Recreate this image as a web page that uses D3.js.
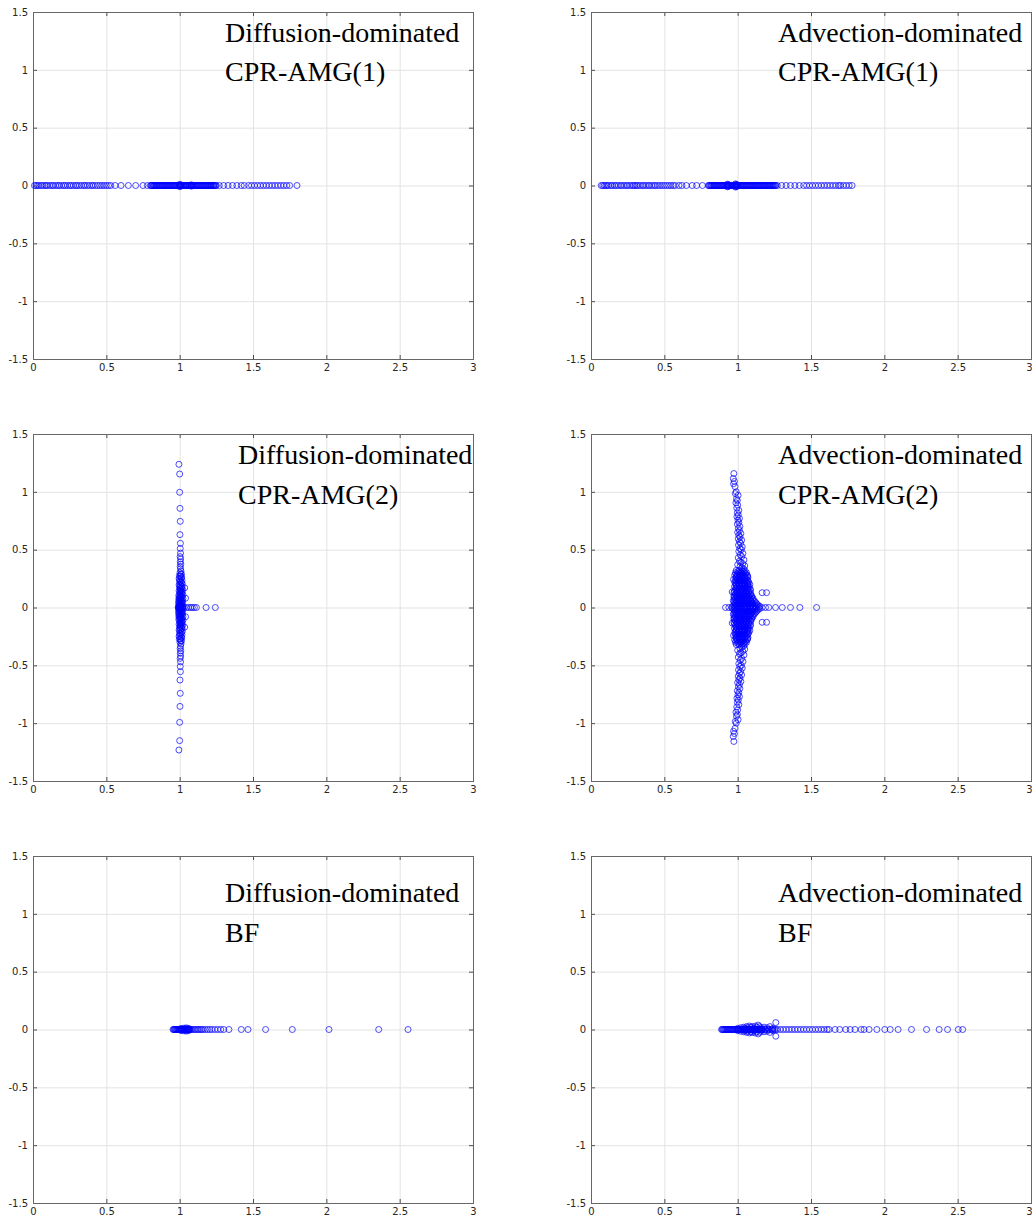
<!DOCTYPE html>
<html><head><meta charset="utf-8">
<script src="https://cdn.jsdelivr.net/npm/d3@7"></script>
<style>body{margin:0;background:#fff}</style>
</head><body>
<svg id="c" width="1032" height="1222"></svg>
<script>
// ---------- tick labels ----------
const xTicks = [0, 0.5, 1, 1.5, 2, 2.5, 3];
const yTicks = [-1.5, -1, -0.5, 0, 0.5, 1, 1.5];
const regimes = ["Diffusion-dominated", "Advection-dominated"];
const methods = ["CPR-AMG(1)", "CPR-AMG(2)", "BF"];

// ---------- eigenvalues (real ones, and complex [re, im]) ----------
const diffAmg1Real = [0.01,0.02,0.03,0.04,0.055,0.065,0.08,0.09,0.1,0.115,0.13,0.14,0.155,0.17,0.18,0.195,0.21,0.22,0.235,0.25,0.26,0.275,0.29,0.3,0.315,0.33,0.345,0.355,0.37,0.385,0.4,0.41,0.425,0.44,0.455,0.47,0.485,0.5,0.515,0.53,0.56,0.6,0.65,0.7,0.75,0.78,
 0.80,0.806,0.81,0.815,0.821,0.826,0.83,0.835,0.841,0.845,0.85,0.856,0.861,0.865,0.87,0.876,0.88,0.885,0.891,0.895,0.9,0.906,0.911,0.915,0.92,0.926,0.93,0.935,0.941,0.945,0.95,0.956,0.961,0.965,0.97,0.976,0.98,0.985,0.991,0.995,1.0,1.006,1.011,1.015,1.02,1.026,1.03,1.035,1.041,1.045,1.05,1.056,1.061,1.065,1.07,1.076,1.08,1.085,1.091,1.095,1.1,1.106,1.111,1.115,1.12,1.126,1.13,1.135,1.141,1.145,1.15,1.156,1.161,1.165,1.17,1.176,1.18,1.185,1.191,1.195,1.2,1.206,1.211,1.215,1.22,1.226,1.23,1.235,1.241,1.245,1.25,
 1.27,1.3,1.33,1.36,1.39,1.42,1.44,1.47,1.49,1.51,1.53,1.55,1.57,1.59,1.61,1.63,1.65,1.67,1.69,1.71,1.73,1.75,1.8];
const diffAmg1Cplx = [[1.0,0.01],[1.0,-0.01],[1.005,0.006],[1.005,-0.006],[1.08,0.006],[1.08,-0.006]];

const advAmg1Real = [0.07,0.08,0.09,0.1,0.11,0.12,0.135,0.145,0.16,0.17,0.185,0.2,0.21,0.225,0.24,0.25,0.265,0.28,0.29,0.3,0.31,0.32,0.335,0.35,0.36,0.375,0.39,0.4,0.415,0.43,0.44,0.455,0.47,0.485,0.5,0.515,0.53,0.545,0.56,0.575,0.6,0.62,0.65,0.69,0.72,0.76,
 0.80,0.805,0.81,0.816,0.82,0.825,0.83,0.836,0.84,0.845,0.85,0.856,0.86,0.865,0.87,0.876,0.88,0.885,0.89,0.896,0.9,0.905,0.91,0.916,0.92,0.925,0.93,0.936,0.94,0.945,0.95,0.956,0.96,0.965,0.97,0.976,0.98,0.985,0.99,0.996,1.0,1.005,1.01,1.016,1.02,1.025,1.03,1.036,1.04,1.045,1.05,1.056,1.06,1.065,1.07,1.076,1.08,1.085,1.09,1.096,1.1,1.105,1.11,1.116,1.12,1.125,1.13,1.136,1.14,1.145,1.15,1.156,1.16,1.165,1.17,1.176,1.18,1.185,1.19,1.196,1.2,1.205,1.21,1.216,1.22,1.225,1.23,1.236,1.24,1.245,1.25,1.256,1.26,1.27,
 1.3,1.33,1.36,1.39,1.42,1.45,1.47,1.49,1.51,1.53,1.55,1.57,1.59,1.61,1.63,1.65,1.67,1.69,1.7,1.72,1.74,1.76,1.78];
const advAmg1Cplx = [[0.93,0.012],[0.93,-0.012],[0.935,0.008],[0.935,-0.008],[0.985,0.014],[0.985,-0.014],[0.99,0.01],[0.99,-0.01],[0.995,0.006],[0.995,-0.006]];

const diffAmg2Real = [0.99,0.995,1.0,1.0,1.005,1.01,1.015,1.02,1.03,1.045,1.06,1.075,1.086,1.1,1.114,1.18,1.243];
const diffAmg2Cplx = [
 [0.995,1.238],[1.0,1.154],[1.0,0.996],[1.002,0.857],[1.004,0.745],[1.002,0.63],[1.005,0.555],[1.004,0.51],[1.006,0.47],[1.003,0.44],[1.007,0.42],[1.004,0.395],[1.008,0.375],[1.003,0.355],[1.006,0.335],[1.009,0.315],[1.002,0.3],[1.007,0.285],[1.004,0.27],[1.01,0.255],[1.0,0.24],[1.006,0.228],[1.012,0.215],[1.003,0.2],[1.008,0.19],[1.0,0.178],[1.014,0.17],[1.005,0.16],[1.01,0.15],[1.034,0.17],[1.002,0.14],[1.008,0.13],[1.015,0.12],[1.0,0.11],[1.006,0.1],[1.012,0.092],[0.996,0.085],[1.04,0.08],[1.004,0.075],[1.01,0.066],[1.018,0.06],[0.995,0.055],[1.003,0.048],[1.008,0.04],[1.014,0.034],[0.998,0.03],[1.005,0.022],[1.012,0.016],[1.0,0.01],[1.007,0.005],
 [1.012,0.29],[0.998,0.275],[1.014,0.262],[0.996,0.25],[1.016,0.235],[1.0,0.222],[1.018,0.205],[0.996,0.195],[1.016,0.182],[1.002,0.165],[1.02,0.155],[0.996,0.145],[1.016,0.135],[1.002,0.125],[1.022,0.112],[0.994,0.104],[1.016,0.096],[1.002,0.088],[1.022,0.078],[0.994,0.07],[1.0,0.062],[1.014,0.052],[1.02,0.044],[0.992,0.038],[1.016,0.026],[0.994,0.018],[1.02,0.01],[0.993,0.004],
 [0.995,-1.232],[1.0,-1.151],[1.0,-0.993],[1.002,-0.855],[1.004,-0.742],[1.002,-0.627],[1.005,-0.555],[1.004,-0.51],[1.006,-0.47],[1.003,-0.44],[1.007,-0.42],[1.004,-0.395],[1.008,-0.375],[1.003,-0.355],[1.006,-0.335],[1.009,-0.315],[1.002,-0.3],[1.007,-0.285],[1.004,-0.27],[1.01,-0.255],[1.0,-0.24],[1.006,-0.228],[1.012,-0.215],[1.003,-0.2],[1.008,-0.19],[1.0,-0.178],[1.014,-0.17],[1.005,-0.16],[1.01,-0.15],[1.034,-0.17],[1.002,-0.14],[1.008,-0.13],[1.015,-0.12],[1.0,-0.11],[1.006,-0.1],[1.012,-0.092],[0.996,-0.085],[1.04,-0.08],[1.004,-0.075],[1.01,-0.066],[1.018,-0.06],[0.995,-0.055],[1.003,-0.048],[1.008,-0.04],[1.014,-0.034],[0.998,-0.03],[1.005,-0.022],[1.012,-0.016],[1.0,-0.01],[1.007,-0.005],
 [1.012,-0.29],[0.998,-0.275],[1.014,-0.262],[0.996,-0.25],[1.016,-0.235],[1.0,-0.222],[1.018,-0.205],[0.996,-0.195],[1.016,-0.182],[1.002,-0.165],[1.02,-0.155],[0.996,-0.145],[1.016,-0.135],[1.002,-0.125],[1.022,-0.112],[0.994,-0.104],[1.016,-0.096],[1.002,-0.088],[1.022,-0.078],[0.994,-0.07],[1.0,-0.062],[1.014,-0.052],[1.02,-0.044],[0.992,-0.038],[1.016,-0.026],[0.994,-0.018],[1.02,-0.01],[0.993,-0.004]];

const advAmg2Real = [0.917,0.94,0.96,0.98,0.995,1.01,1.025,1.04,1.055,1.07,1.085,1.1,1.122,1.144,1.167,1.19,1.212,1.258,1.304,1.36,1.424,1.538];
const advAmg2Cplx = [
 // upper arm
 [0.974,1.158],[0.97,1.115],[0.978,1.09],[0.972,1.07],[0.982,1.045],[0.99,1.0],[0.984,0.985],[1.003,0.97],[0.992,0.94],[0.998,0.925],[0.988,0.905],[1.0,0.885],[0.994,0.86],[1.008,0.84],[0.998,0.82],[1.004,0.8],[0.995,0.785],[1.012,0.77],[1.002,0.755],[1.008,0.735],[0.998,0.72],[1.015,0.7],[1.005,0.685],[1.012,0.665],[1.0,0.65],[1.022,0.64],[1.008,0.625],[1.016,0.61],[1.004,0.595],[1.027,0.582],[1.012,0.57],[1.02,0.555],[1.006,0.54],[1.031,0.524],[1.015,0.51],[1.025,0.5],[1.008,0.485],[1.036,0.467],[1.018,0.455],[1.028,0.44],[1.004,0.43],[1.043,0.41],[1.012,0.4],[1.022,0.39],[1.035,0.38],[1.0,0.37],[1.048,0.36],[1.016,0.355],[1.028,0.345],[1.04,0.335],
 // lower arm
 [0.974,-1.158],[0.97,-1.115],[0.978,-1.09],[0.972,-1.07],[0.982,-1.045],[0.99,-1.0],[0.984,-0.985],[1.003,-0.97],[0.992,-0.94],[0.998,-0.925],[0.988,-0.905],[1.0,-0.885],[0.994,-0.86],[1.008,-0.84],[0.998,-0.82],[1.004,-0.8],[0.995,-0.785],[1.012,-0.77],[1.002,-0.755],[1.008,-0.735],[0.998,-0.72],[1.015,-0.7],[1.005,-0.685],[1.012,-0.665],[1.0,-0.65],[1.022,-0.64],[1.008,-0.625],[1.016,-0.61],[1.004,-0.595],[1.027,-0.582],[1.012,-0.57],[1.02,-0.555],[1.006,-0.54],[1.031,-0.524],[1.015,-0.51],[1.025,-0.5],[1.008,-0.485],[1.036,-0.467],[1.018,-0.455],[1.028,-0.44],[1.004,-0.43],[1.043,-0.41],[1.012,-0.4],[1.022,-0.39],[1.035,-0.38],[1.0,-0.37],[1.048,-0.36],[1.016,-0.355],[1.028,-0.345],[1.04,-0.335],
 // core, upper half
 [0.99,0.32],[1.01,0.32],[1.03,0.32],[1.05,0.32],
 [1.0,0.31],[1.02,0.31],[1.04,0.31],
 [0.985,0.3],[1.005,0.3],[1.025,0.3],[1.045,0.3],[1.06,0.3],
 [0.995,0.29],[1.015,0.29],[1.035,0.29],[1.055,0.29],
 [0.98,0.28],[1.0,0.28],[1.02,0.28],[1.04,0.28],[1.065,0.28],
 [0.99,0.27],[1.01,0.27],[1.03,0.27],[1.05,0.27],[1.068,0.27],
 [0.99,0.26],[1.01,0.26],[1.03,0.26],[1.05,0.26],[1.07,0.26],
 [0.995,0.25],[1.015,0.25],[1.035,0.25],[1.055,0.25],
 [0.972,0.242],[0.985,0.24],[1.005,0.24],[1.025,0.24],[1.045,0.24],[1.065,0.24],
 [0.99,0.23],[1.01,0.23],[1.03,0.23],[1.05,0.23],[1.07,0.23],
 [0.98,0.22],[1.0,0.22],[1.02,0.22],[1.04,0.22],[1.06,0.22],[1.075,0.22],
 [0.985,0.21],[1.005,0.21],[1.025,0.21],[1.045,0.21],[1.065,0.21],
 [0.99,0.2],[1.01,0.2],[1.03,0.2],[1.05,0.2],[1.07,0.2],[1.083,0.2],
 [0.988,0.19],[1.008,0.19],[1.028,0.19],[1.048,0.19],[1.068,0.19],
 [0.978,0.18],[0.998,0.18],[1.018,0.18],[1.038,0.18],[1.058,0.18],[1.078,0.18],
 [0.99,0.17],[1.01,0.17],[1.03,0.17],[1.05,0.17],[1.07,0.17],
 [0.985,0.16],[1.005,0.16],[1.025,0.16],[1.045,0.16],[1.065,0.16],[1.085,0.16],
 [0.988,0.15],[1.008,0.15],[1.028,0.15],[1.048,0.15],[1.068,0.15],[1.088,0.15],
 [0.963,0.135],[0.978,0.14],[0.998,0.14],[1.018,0.14],[1.038,0.14],[1.058,0.14],[1.078,0.14],
 [0.975,0.13],[0.995,0.13],[1.015,0.13],[1.035,0.13],[1.055,0.13],[1.075,0.13],
 [0.985,0.12],[1.005,0.12],[1.025,0.12],[1.045,0.12],[1.065,0.12],[1.09,0.12],[1.167,0.128],[1.197,0.128],
 [0.985,0.11],[1.005,0.11],[1.025,0.11],[1.045,0.11],[1.065,0.11],[1.085,0.11],
 [0.975,0.1],[0.995,0.1],[1.015,0.1],[1.035,0.1],[1.055,0.1],[1.075,0.1],[1.095,0.1],
 [0.975,0.09],[0.995,0.09],[1.015,0.09],[1.035,0.09],[1.055,0.09],[1.075,0.09],[1.095,0.09],
 [0.985,0.08],[1.005,0.08],[1.025,0.08],[1.045,0.08],[1.065,0.08],[1.085,0.08],[1.105,0.08],
 [0.98,0.07],[1.0,0.07],[1.02,0.07],[1.04,0.07],[1.06,0.07],[1.08,0.07],[1.1,0.07],
 [0.97,0.06],[0.99,0.06],[1.01,0.06],[1.03,0.06],[1.05,0.06],[1.07,0.06],[1.09,0.06],[1.11,0.06],
 [0.975,0.05],[0.995,0.05],[1.015,0.05],[1.035,0.05],[1.055,0.05],[1.075,0.05],[1.095,0.05],[1.118,0.05],
 [0.98,0.04],[1.0,0.04],[1.02,0.04],[1.04,0.04],[1.06,0.04],[1.08,0.04],[1.1,0.04],[1.125,0.04],
 [0.985,0.03],[1.005,0.03],[1.025,0.03],[1.045,0.03],[1.065,0.03],[1.085,0.03],[1.105,0.03],[1.13,0.03],
 [0.975,0.02],[0.995,0.02],[1.015,0.02],[1.035,0.02],[1.055,0.02],[1.075,0.02],[1.095,0.02],[1.115,0.02],[1.14,0.02],
 [0.965,0.01],[0.985,0.01],[1.005,0.01],[1.025,0.01],[1.045,0.01],[1.065,0.01],[1.085,0.01],[1.105,0.01],[1.125,0.01],[1.15,0.01],
 // core, lower half
 [0.99,-0.32],[1.01,-0.32],[1.03,-0.32],[1.05,-0.32],
 [1.0,-0.31],[1.02,-0.31],[1.04,-0.31],
 [0.985,-0.3],[1.005,-0.3],[1.025,-0.3],[1.045,-0.3],[1.06,-0.3],
 [0.995,-0.29],[1.015,-0.29],[1.035,-0.29],[1.055,-0.29],
 [0.98,-0.28],[1.0,-0.28],[1.02,-0.28],[1.04,-0.28],[1.065,-0.28],
 [0.99,-0.27],[1.01,-0.27],[1.03,-0.27],[1.05,-0.27],[1.068,-0.27],
 [0.99,-0.26],[1.01,-0.26],[1.03,-0.26],[1.05,-0.26],[1.07,-0.26],
 [0.995,-0.25],[1.015,-0.25],[1.035,-0.25],[1.055,-0.25],
 [0.972,-0.242],[0.985,-0.24],[1.005,-0.24],[1.025,-0.24],[1.045,-0.24],[1.065,-0.24],
 [0.99,-0.23],[1.01,-0.23],[1.03,-0.23],[1.05,-0.23],[1.07,-0.23],
 [0.98,-0.22],[1.0,-0.22],[1.02,-0.22],[1.04,-0.22],[1.06,-0.22],[1.075,-0.22],
 [0.985,-0.21],[1.005,-0.21],[1.025,-0.21],[1.045,-0.21],[1.065,-0.21],
 [0.99,-0.2],[1.01,-0.2],[1.03,-0.2],[1.05,-0.2],[1.07,-0.2],[1.083,-0.2],
 [0.988,-0.19],[1.008,-0.19],[1.028,-0.19],[1.048,-0.19],[1.068,-0.19],
 [0.978,-0.18],[0.998,-0.18],[1.018,-0.18],[1.038,-0.18],[1.058,-0.18],[1.078,-0.18],
 [0.99,-0.17],[1.01,-0.17],[1.03,-0.17],[1.05,-0.17],[1.07,-0.17],
 [0.985,-0.16],[1.005,-0.16],[1.025,-0.16],[1.045,-0.16],[1.065,-0.16],[1.085,-0.16],
 [0.988,-0.15],[1.008,-0.15],[1.028,-0.15],[1.048,-0.15],[1.068,-0.15],[1.088,-0.15],
 [0.963,-0.135],[0.978,-0.14],[0.998,-0.14],[1.018,-0.14],[1.038,-0.14],[1.058,-0.14],[1.078,-0.14],
 [0.975,-0.13],[0.995,-0.13],[1.015,-0.13],[1.035,-0.13],[1.055,-0.13],[1.075,-0.13],
 [0.985,-0.12],[1.005,-0.12],[1.025,-0.12],[1.045,-0.12],[1.065,-0.12],[1.09,-0.12],[1.167,-0.128],[1.197,-0.128],
 [0.985,-0.11],[1.005,-0.11],[1.025,-0.11],[1.045,-0.11],[1.065,-0.11],[1.085,-0.11],
 [0.975,-0.1],[0.995,-0.1],[1.015,-0.1],[1.035,-0.1],[1.055,-0.1],[1.075,-0.1],[1.095,-0.1],
 [0.975,-0.09],[0.995,-0.09],[1.015,-0.09],[1.035,-0.09],[1.055,-0.09],[1.075,-0.09],[1.095,-0.09],
 [0.985,-0.08],[1.005,-0.08],[1.025,-0.08],[1.045,-0.08],[1.065,-0.08],[1.085,-0.08],[1.105,-0.08],
 [0.98,-0.07],[1.0,-0.07],[1.02,-0.07],[1.04,-0.07],[1.06,-0.07],[1.08,-0.07],[1.1,-0.07],
 [0.97,-0.06],[0.99,-0.06],[1.01,-0.06],[1.03,-0.06],[1.05,-0.06],[1.07,-0.06],[1.09,-0.06],[1.11,-0.06],
 [0.975,-0.05],[0.995,-0.05],[1.015,-0.05],[1.035,-0.05],[1.055,-0.05],[1.075,-0.05],[1.095,-0.05],[1.118,-0.05],
 [0.98,-0.04],[1.0,-0.04],[1.02,-0.04],[1.04,-0.04],[1.06,-0.04],[1.08,-0.04],[1.1,-0.04],[1.125,-0.04],
 [0.985,-0.03],[1.005,-0.03],[1.025,-0.03],[1.045,-0.03],[1.065,-0.03],[1.085,-0.03],[1.105,-0.03],[1.13,-0.03],
 [0.975,-0.02],[0.995,-0.02],[1.015,-0.02],[1.035,-0.02],[1.055,-0.02],[1.075,-0.02],[1.095,-0.02],[1.115,-0.02],[1.14,-0.02],
 [0.965,-0.01],[0.985,-0.01],[1.005,-0.01],[1.025,-0.01],[1.045,-0.01],[1.065,-0.01],[1.085,-0.01],[1.105,-0.01],[1.125,-0.01],[1.15,-0.01]];

const diffBfReal = [0.955,0.96,0.964,0.968,0.972,0.976,0.98,0.984,0.988,0.992,0.996,1.0,1.004,1.008,1.012,1.016,1.02,1.024,1.028,1.032,1.036,1.04,1.044,1.048,1.052,1.056,1.06,1.064,1.068,1.072,1.08,1.09,1.1,1.11,1.12,1.13,1.14,1.15,1.16,1.175,1.19,1.205,1.22,1.24,1.26,1.28,1.3,1.336,1.42,1.466,1.586,1.768,2.018,2.357,2.557];
const diffBfCplx = [[1.01,0.01],[1.01,-0.01],[1.03,0.012],[1.03,-0.012],[1.045,0.014],[1.045,-0.014],[1.055,0.01],[1.055,-0.01],[1.065,0.006],[1.065,-0.006]];

const advBfReal = [0.89,0.895,0.9,0.905,0.91,0.915,0.92,0.925,0.93,0.935,0.94,0.945,0.95,0.955,0.96,0.965,0.97,0.975,0.98,0.985,0.99,0.995,1.0,1.005,1.01,1.015,1.02,1.025,1.03,1.035,1.04,1.045,1.05,1.055,1.06,1.065,1.07,1.075,1.08,1.085,1.09,1.095,1.1,1.105,1.11,1.115,1.12,1.125,1.13,1.135,1.14,1.145,1.15,1.155,1.16,1.165,1.17,1.18,1.19,1.2,1.21,1.22,1.23,1.24,1.25,1.26,1.27,1.29,1.31,1.33,1.35,1.37,1.39,1.41,1.43,1.45,1.47,1.49,1.51,1.53,1.55,1.57,1.59,1.61,1.623,1.664,1.696,1.737,1.767,1.8,1.842,1.862,1.896,1.949,2.003,2.04,2.094,2.185,2.288,2.374,2.431,2.504,2.534];
const advBfCplx = [[1.0,0.01],[1.0,-0.01],[1.02,0.015],[1.02,-0.015],[1.04,0.02],[1.04,-0.02],[1.05,0.01],[1.05,-0.01],[1.06,0.025],[1.06,-0.025],[1.07,0.015],[1.07,-0.015],[1.08,0.03],[1.08,-0.03],[1.09,0.02],[1.09,-0.02],[1.1,0.025],[1.1,-0.025],[1.11,0.012],[1.11,-0.012],[1.12,0.03],[1.12,-0.03],[1.13,0.02],[1.13,-0.02],[1.14,0.038],[1.14,-0.038],[1.15,0.025],[1.15,-0.025],[1.16,0.015],[1.16,-0.015],[1.18,0.02],[1.18,-0.02],[1.2,0.015],[1.2,-0.015],[1.22,0.025],[1.22,-0.025],[1.24,0.01],[1.24,-0.01],[1.26,0.06],[1.26,-0.058]];

const panels = [
  {row:0, col:0, regime:0, method:0, real:diffAmg1Real, cplx:diffAmg1Cplx},
  {row:0, col:1, regime:1, method:0, real:advAmg1Real,  cplx:advAmg1Cplx},
  {row:1, col:0, regime:0, method:1, real:diffAmg2Real, cplx:diffAmg2Cplx},
  {row:1, col:1, regime:1, method:1, real:advAmg2Real,  cplx:advAmg2Cplx},
  {row:2, col:0, regime:0, method:2, real:diffBfReal,   cplx:diffBfCplx},
  {row:2, col:1, regime:1, method:2, real:advBfReal,    cplx:advBfCplx}
];

// ---------- layout ----------
const colLeft = [33, 591], rowTop = [12, 434, 856], W = 440, H = 347;
const titleBase = [[30, 69], [30, 70], [46, 86]];
const titleLeft = [[192, 205, 192], [187, 187, 187]];

const svg = d3.select("#c");
const x = d3.scaleLinear().domain([0, 3]).range([0, W]);
const y = d3.scaleLinear().domain([-1.5, 1.5]).range([H, 0]);
const fmt = d => String(d);

panels.forEach(p => {
  const g = svg.append("g").attr("transform", `translate(${colLeft[p.col]},${rowTop[p.row]})`);

  // grid
  g.append("g").selectAll("line").data(xTicks).join("line")
    .attr("x1", d => x(d) + 0.5).attr("x2", d => x(d) + 0.5).attr("y1", 0).attr("y2", H)
    .attr("stroke", "#e3e3e3").attr("stroke-width", 1);
  g.append("g").selectAll("line").data(yTicks).join("line")
    .attr("y1", d => y(d) + 0.5).attr("y2", d => y(d) + 0.5).attr("x1", 0).attr("x2", W)
    .attr("stroke", "#e3e3e3").attr("stroke-width", 1);

  // axes (inward ticks on all four sides)
  const styleAxis = sel => {
    sel.select(".domain").remove();
    sel.selectAll(".tick line").attr("stroke", "#262626").attr("stroke-width", 0.8);
    sel.selectAll(".tick text").attr("fill", "#262626")
      .style("font-family", "'DejaVu Sans', sans-serif").style("font-size", "10px");
  };
  const bx = g.append("g").attr("transform", `translate(0,${H})`)
    .call(d3.axisBottom(x).tickValues(xTicks).tickSize(-4).tickPadding(5).tickFormat(fmt)).call(styleAxis);
  if (p.col === 1) {
    // keep the last label inside the page edge
    bx.selectAll(".tick text").filter(d => d === 3).attr("dx", "-2");
  }
  g.append("g")
    .call(d3.axisLeft(y).tickValues(yTicks).tickSize(-4).tickPadding(5).tickFormat(fmt)).call(styleAxis);
  g.append("g")
    .call(d3.axisTop(x).tickValues(xTicks).tickSize(-4).tickFormat("")).call(styleAxis);
  g.append("g").attr("transform", `translate(${W},0)`)
    .call(d3.axisRight(y).tickValues(yTicks).tickSize(-4).tickFormat("")).call(styleAxis);

  // box
  g.append("rect").attr("x", 0.5).attr("y", 0.5).attr("width", W).attr("height", H)
    .attr("fill", "none").attr("stroke", "#666").attr("stroke-width", 1);

  // eigenvalue markers
  const pts = p.real.map(r => [r, 0]).concat(p.cplx);
  g.append("g").selectAll("circle").data(pts).join("circle")
    .attr("cx", d => x(d[0])).attr("cy", d => y(d[1])).attr("r", 3)
    .attr("fill", "none").attr("stroke", "#0000ff").attr("stroke-width", 0.7);

  // titles
  const t = g.append("g").style("font-family", "'Liberation Serif', serif").style("font-size", "28px").attr("fill", "#000");
  t.append("text").attr("x", titleLeft[p.col][p.row]).attr("y", titleBase[p.row][0]).text(regimes[p.regime]);
  t.append("text").attr("x", titleLeft[p.col][p.row]).attr("y", titleBase[p.row][1]).text(methods[p.method]);
});
</script>
</body></html>
